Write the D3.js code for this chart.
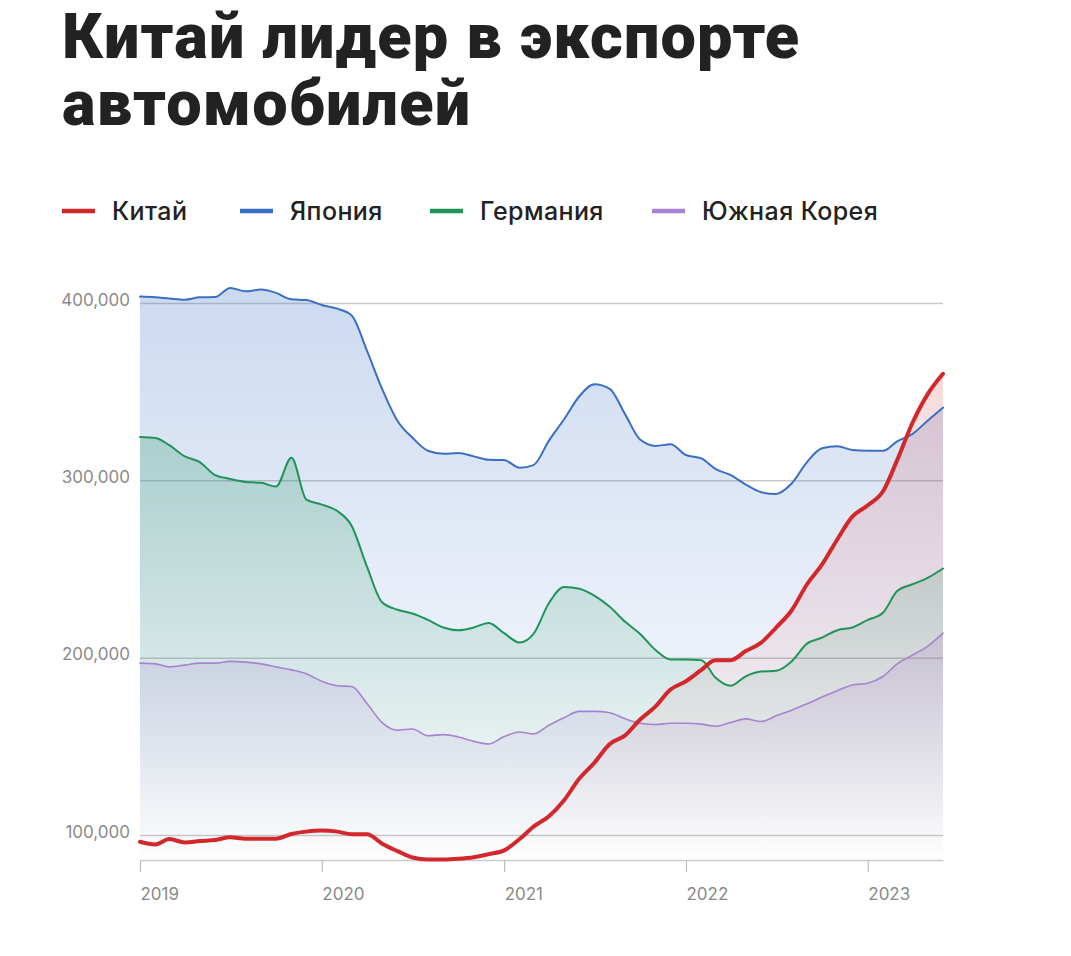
<!DOCTYPE html>
<html>
<head>
<meta charset="utf-8">
<script src="https://cdn.jsdelivr.net/npm/d3@7"></script>
<style>
  html, body { margin: 0; padding: 0; background: #fff; }
  svg { display: block; }
</style>
</head>
<body>
<svg id="chart" width="1071" height="956"></svg>
<script>
// ---------- DATA ----------
const titleLines = ["Китай лидер в экспорте", "автомобилей"];
const seriesNames = ["Китай", "Япония", "Германия", "Южная Корея"];
const startYear = 2019, startMonth = 0, monthCount = 54; // Jan 2019 .. Jun 2023
const yearTicks = [2019, 2020, 2021, 2022, 2023];
const yTicks = [100000, 200000, 300000, 400000];

// monthly values, thousands of cars
const china = [96.2,94.7,97.7,95.8,96.6,97.2,98.7,97.9,97.9,97.9,
  100.6,101.9,102.5,101.9,100.4,100.4,95.1,90.9,
  87.3,86.2,86.2,86.6,87.5,89.2,91.3,97.7,104.7,110.6,
  119.5,131.8,140.7,151.3,156.2,165.1,172.5,182,
  186.7,193.1,198.6,198.6,203.7,208.5,217,226.6,241.4,252.4,
  266.8,279.5,285.9,294,311.4,332.6,348.5,360.1];
const japan = [403.6,403.2,402.5,401.9,403.2,403.4,408.5,406.6,407.6,405.7,
  402.1,401.7,398.9,396.8,393,372.8,351.6,333.5,
  324,316.7,315,315.4,313.5,311.6,311.4,307.1,308.6,322.4,
  334.3,347.4,354.2,351.6,337.2,323,319.4,320.3,
  314.3,312.4,306.5,302.9,297.6,293.3,292.3,298.2,310.3,318.1,
  319.2,317.1,316.7,316.7,322,326.2,333.6,341];
const germany = [324.5,323.9,319.8,313.5,310.3,302.9,300.8,299.1,298.6,296.5,
  312.8,289.1,286.3,282.7,274.3,251,231.2,227,
  224.9,221.3,217,215.5,217,219.6,213.8,208.5,213.4,230.8,
  239.9,238.9,235,228.7,220.2,213.4,204.3,199,
  199,198.6,188.8,184.2,189.5,192.2,192.6,197.9,207.9,211.3,
  215.5,217,221.3,225.5,237.6,241.4,245,250.3];
const korea = [196.9,196.5,194.8,195.8,196.9,196.9,197.9,197.5,196.5,194.8,
  193.1,190.9,186.7,184.2,183.7,174,163.4,159.1,
  159.8,156,156.6,155.3,152.8,151.3,155.5,158.1,157,161.9,
  166.1,169.7,169.7,168.9,165.5,163,162.3,163,
  163,162.5,161.3,163.4,165.5,164,167.2,170.4,174,177.8,
  181.4,184.6,185.6,189.5,196.5,201.5,206.4,213.8];

// ---------- STYLE ----------
const colors = { "Китай": "#d2282b", "Япония": "#3a6fc6", "Германия": "#1f9459", "Южная Корея": "#a782d0" };
const widths = { "Китай": 4, "Япония": 2, "Германия": 2, "Южная Корея": 1.6 };
const fillOpacity = { "Китай": 0.17, "Япония": 0.26, "Германия": 0.25, "Южная Корея": 0.22 };

const dates = d3.range(monthCount).map(i => new Date(startYear, startMonth + i, 1));
const valuesBy = { "Китай": china, "Япония": japan, "Германия": germany, "Южная Корея": korea };
const series = seriesNames.map(name => ({
  name, points: valuesBy[name].map((v, i) => ({ date: dates[i], value: v * 1000 }))
}));

const svg = d3.select("#chart");
const plotLeft = 140, plotRight = 943, plotTop = 276.4, plotBottom = 860;

const x = d3.scaleTime().domain([dates[0], dates[dates.length - 1]]).range([plotLeft, plotRight]);
const y = d3.scaleLinear().domain([85900, 415000]).range([plotBottom, plotTop]);

// ---------- TITLE ----------
const titleFont = "Roboto, 'Liberation Sans', sans-serif";
const title = svg.append("g");
titleLines.forEach((t, i) => {
  title.append("text")
    .attr("x", 62).attr("y", 58 + i * 67)
    .attr("font-family", titleFont)
    .attr("font-weight", 900)
    .attr("font-size", 63)
    .attr("letter-spacing", 1.2)
    .attr("fill", "#222")
    .text(t);
});

// ---------- LEGEND ----------
const legendX = [62, 240, 430, 652];
const legend = svg.append("g");
seriesNames.forEach((name, i) => {
  const g = legend.append("g").attr("transform", `translate(${legendX[i]},211)`);
  g.append("line").attr("x1", 0).attr("x2", 33).attr("y1", 0).attr("y2", 0)
    .attr("stroke", colors[name]).attr("stroke-width", 4.5);
  g.append("text").attr("x", 50).attr("y", 0).attr("dy", "0.36em")
    .attr("font-family", "Inter, 'Noto Sans', sans-serif")
    .attr("font-weight", 500)
    .attr("font-size", 25)
    .attr("letter-spacing", 0.4)
    .attr("fill", "#222")
    .text(name);
});

// ---------- GRADIENTS ----------
const defs = svg.append("defs");
seriesNames.forEach((name, i) => {
  const grad = defs.append("linearGradient").attr("id", "grad" + i)
    .attr("x1", 0).attr("x2", 0).attr("y1", 0).attr("y2", 1);
  grad.append("stop").attr("offset", "0%").attr("stop-color", colors[name]).attr("stop-opacity", fillOpacity[name]);
  grad.append("stop").attr("offset", "55%").attr("stop-color", colors[name]).attr("stop-opacity", fillOpacity[name] * 0.45);
  grad.append("stop").attr("offset", "100%").attr("stop-color", colors[name]).attr("stop-opacity", 0.0);
});

// ---------- GRID / Y AXIS ----------
const yAxis = svg.append("g").attr("transform", `translate(${plotLeft},0)`)
  .call(d3.axisLeft(y).tickValues(yTicks).tickFormat(d3.format(","))
    .tickSize(-(plotRight - plotLeft)).tickPadding(10));
yAxis.select(".domain").remove();
yAxis.selectAll(".tick line").attr("stroke", "#c9c9c9").attr("stroke-width", 1.5);
yAxis.selectAll(".tick text")
  .attr("font-family", "Inter, 'Noto Sans', sans-serif")
  .attr("font-size", 17).attr("fill", "#8a8a8a").attr("dy", "0.12em");

// ---------- AREAS ----------
const drawOrder = ["Япония", "Германия", "Южная Корея", "Китай"];
const area = d3.area().x(d => x(d.date)).y0(y(y.domain()[0])).y1(d => y(d.value)).curve(d3.curveMonotoneX);
const line = d3.line().x(d => x(d.date)).y(d => y(d.value)).curve(d3.curveMonotoneX);
const areas = svg.append("g");
drawOrder.forEach(name => {
  const s = series.find(d => d.name === name);
  areas.append("path").datum(s.points)
    .attr("d", area)
    .attr("fill", `url(#grad${seriesNames.indexOf(name)})`);
});

// ---------- X AXIS ----------
const xAxis = svg.append("g").attr("transform", `translate(0,${plotBottom})`)
  .call(d3.axisBottom(x).tickValues(yearTicks.map(yv => new Date(yv, 0, 1)))
    .tickFormat(d3.timeFormat("%Y")).tickSize(12).tickPadding(16).tickSizeOuter(0));
xAxis.select(".domain").attr("stroke", "#c9c9c9").attr("stroke-width", 1.5);
xAxis.selectAll(".tick line").attr("stroke", "#bdbdbd").attr("stroke-width", 1.2);
xAxis.selectAll(".tick text")
  .attr("text-anchor", "start")
  .attr("font-family", "Inter, 'Noto Sans', sans-serif")
  .attr("font-size", 17).attr("fill", "#8a8a8a");

// ---------- LINES ----------
const lines = svg.append("g");
drawOrder.forEach(name => {
  const s = series.find(d => d.name === name);
  lines.append("path").datum(s.points)
    .attr("d", line)
    .attr("fill", "none")
    .attr("stroke", colors[name])
    .attr("stroke-width", widths[name])
    .attr("stroke-linejoin", "round")
    .attr("stroke-linecap", "round");
});
</script>
</body>
</html>
